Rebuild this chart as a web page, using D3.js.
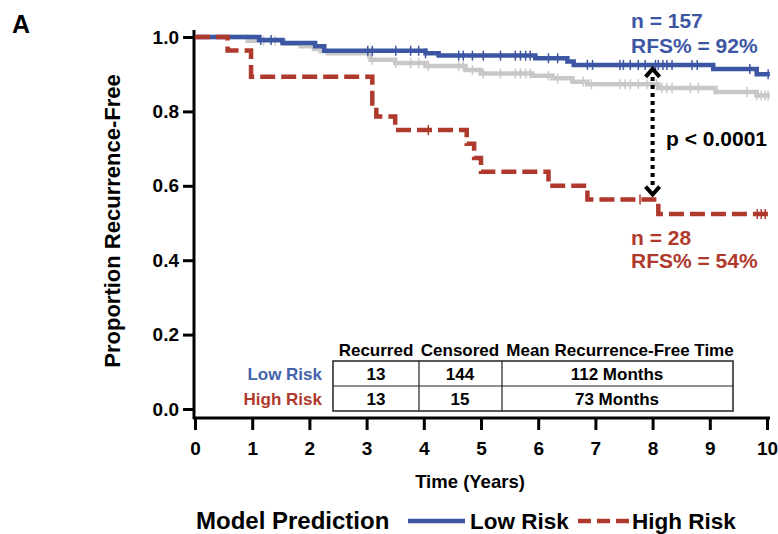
<!DOCTYPE html>
<html>
<head>
<meta charset="utf-8">
<script src="https://cdn.jsdelivr.net/npm/d3@7/dist/d3.min.js"></script>
<style>
  body { margin: 0; background: #fff; }
  svg { display: block; font-family: Arial, "Liberation Sans", Helvetica, sans-serif; font-weight: bold; }
</style>
</head>
<body>
<div id="chart"></div>
<script>
// Kaplan-Meier steps: [years, proportion recurrence-free]
var lowRiskSteps = [[0, 1], [1.12, 0.992], [1.53, 0.984], [2.1, 0.975], [2.26, 0.963], [4.03, 0.956],
    [4.26, 0.95], [5.95, 0.943], [6.51, 0.934], [6.62, 0.925], [9.06, 0.914], [9.82, 0.90], [10.05, 0.90]];
var highRiskSteps = [[0, 1], [0.57, 0.964], [0.98, 0.893], [3.1, 0.821], [3.17, 0.786], [3.5, 0.75],
    [4.75, 0.713], [4.88, 0.675], [5.0, 0.638], [6.18, 0.60], [6.86, 0.563], [8.1, 0.524], [10.05, 0.524]];
var allSteps = [[0, 1], [0.92, 0.99], [1.55, 0.982], [1.85, 0.975], [2.08, 0.968], [2.2, 0.962], [2.32, 0.956],
    [3.07, 0.939], [3.5, 0.93], [4.03, 0.922], [4.73, 0.911], [4.99, 0.902], [5.9, 0.896], [6.25, 0.889],
    [6.6, 0.88], [6.86, 0.873], [8.1, 0.863], [9.1, 0.852], [9.82, 0.843], [10.05, 0.843]];

// censored times (tick marks)
var lowRiskCensored = [1.15, 1.33, 3.02, 3.1, 3.51, 3.77, 3.91, 4.03, 4.61, 4.69, 4.85, 5.04, 5.34, 5.6, 5.69,
    5.78, 5.86, 6.18, 6.34, 6.86, 6.95, 7.43, 7.49, 7.61, 7.75, 7.87, 8.05, 8.1, 8.18, 8.25, 8.34, 8.69, 8.78,
    9.7, 10.02];
var highRiskCensored = [4.08, 7.78, 9.83, 9.9, 9.97];
var allCensored = [1.2, 1.4, 3.02, 3.1, 3.51, 3.77, 3.91, 4.08, 4.61, 4.69, 4.85, 5.04, 5.34, 5.6, 5.69, 5.78,
    5.86, 6.18, 6.34, 6.79, 6.93, 7.43, 7.52, 7.61, 7.75, 7.9, 8.07, 8.16, 8.25, 8.34, 8.66, 8.8, 9.65, 9.82,
    9.9, 9.97, 10.02];

// axis ticks
var xTicks = [0, 1, 2, 3, 4, 5, 6, 7, 8, 9, 10];
var yTicks = [0, 0.2, 0.4, 0.6, 0.8, 1.0];

// summary table
var tableHeaders = ["Recurred", "Censored", "Mean Recurrence-Free Time"];
var groupNames = ["Low Risk", "High Risk"];
var recurred = [13, 13];
var censored = [144, 15];
var meanTime = ["112 Months", "73 Months"];
var groupN = [157, 28];
var groupRfs = [92, 54];
var pText = "p < 0.0001";

var blue = "#3d56a4", red = "#b0392d", grey = "#c8c8c8";

var svg = d3.select("#chart").append("svg")
    .attr("width", 778)
    .attr("height", 534);

var x = d3.scaleLinear().domain([0, 10]).range([195, 767]);
var y = d3.scaleLinear().domain([0, 1]).range([409, 37]);

// panel letter
svg.append("text").attr("x", 12).attr("y", 33)
    .style("font-size", "25px").text("A");

// axes
var yAxis = svg.append("g")
    .attr("transform", "translate(194,0)")
    .call(d3.axisLeft(y).tickValues(yTicks).tickFormat(d3.format(".1f")).tickSize(11).tickPadding(4));
yAxis.select(".domain").attr("d", "M0,30V419");
var xAxis = svg.append("g")
    .attr("transform", "translate(0,418)")
    .call(d3.axisBottom(x).tickValues(xTicks).tickFormat(d3.format("d")).tickSize(12).tickPadding(12));
xAxis.select(".domain").attr("d", "M193,0H770");

svg.selectAll(".domain").attr("stroke", "#000").attr("stroke-width", 3);
svg.selectAll(".tick line").attr("stroke", "#000").attr("stroke-width", 3);
svg.selectAll(".tick text").attr("fill", "#000")
    .style("font-size", "19px").style("font-weight", "bold")
    .style("font-family", "Arial, 'Liberation Sans', Helvetica, sans-serif");

// axis titles
svg.append("text")
    .attr("transform", "translate(120,221) rotate(-90)")
    .attr("text-anchor", "middle")
    .style("font-size", "22px")
    .text("Proportion Recurrence-Free");
svg.append("text")
    .attr("x", 470).attr("y", 488)
    .attr("text-anchor", "middle")
    .style("font-size", "18.5px")
    .text("Time (Years)");

// curves
var line = d3.line()
    .x(function(d) { return x(d[0]); })
    .y(function(d) { return y(d[1]); })
    .curve(d3.curveStepAfter);

var bis = d3.bisector(function(d) { return d[0]; }).right;
function survAt(steps, t) {
    return steps[Math.max(0, bis(steps, t) - 1)][1];
}

function drawCurve(steps, cens, color, dash) {
    var g = svg.append("g");
    g.append("path")
        .datum(steps)
        .attr("d", line)
        .attr("fill", "none")
        .attr("stroke", color)
        .attr("stroke-width", 4.5)
        .attr("stroke-dasharray", dash);
    g.selectAll("line")
        .data(cens)
        .enter()
        .append("line")
        .attr("x1", function(d) { return x(d); })
        .attr("x2", function(d) { return x(d); })
        .attr("y1", function(d) { return y(survAt(steps, d)) - 5; })
        .attr("y2", function(d) { return y(survAt(steps, d)) + 5; })
        .attr("stroke", color)
        .attr("stroke-width", 1.5);
}

drawCurve(allSteps, allCensored, grey, null);
drawCurve(lowRiskSteps, lowRiskCensored, blue, null);
drawCurve(highRiskSteps, highRiskCensored, red, "15,6");

// double arrow between groups at 8 years
var ax = x(8), aTop = y(survAt(lowRiskSteps, 8)) + 4, aBot = y(survAt(highRiskSteps, 8)) - 5;
svg.append("line")
    .attr("x1", ax).attr("x2", ax)
    .attr("y1", aTop + 8).attr("y2", aBot - 8)
    .attr("stroke", "#000").attr("stroke-width", 4)
    .attr("stroke-dasharray", "4,4");
svg.append("path")
    .attr("d", "M" + (ax - 7) + "," + (aTop + 8) + "L" + ax + "," + aTop + "L" + (ax + 7) + "," + (aTop + 8))
    .attr("fill", "none").attr("stroke", "#000").attr("stroke-width", 4);
svg.append("path")
    .attr("d", "M" + (ax - 7) + "," + (aBot - 8) + "L" + ax + "," + aBot + "L" + (ax + 7) + "," + (aBot - 8))
    .attr("fill", "none").attr("stroke", "#000").attr("stroke-width", 4);

svg.append("text").attr("x", 666).attr("y", 146)
    .style("font-size", "21px").text(pText);

// n and RFS annotations
svg.append("text").attr("x", 631).attr("y", 28).attr("fill", blue)
    .style("font-size", "21px").text("n = " + groupN[0]);
svg.append("text").attr("x", 631).attr("y", 53).attr("fill", blue)
    .style("font-size", "21px").text("RFS% = " + groupRfs[0] + "%");
svg.append("text").attr("x", 631).attr("y", 245).attr("fill", red)
    .style("font-size", "21px").text("n = " + groupN[1]);
svg.append("text").attr("x", 631).attr("y", 268).attr("fill", red)
    .style("font-size", "21px").text("RFS% = " + groupRfs[1] + "%");

// table
var colEdges = [333, 419, 502, 733];
var rowEdges = [361, 386, 411];
var tbl = svg.append("g");
tbl.append("rect")
    .attr("x", colEdges[0]).attr("y", rowEdges[0])
    .attr("width", colEdges[3] - colEdges[0]).attr("height", rowEdges[2] - rowEdges[0])
    .attr("fill", "#fff").attr("stroke", "#222").attr("stroke-width", 1.5);
tbl.append("line").attr("x1", colEdges[0]).attr("x2", colEdges[3])
    .attr("y1", rowEdges[1]).attr("y2", rowEdges[1]).attr("stroke", "#222").attr("stroke-width", 1.2);
[colEdges[1], colEdges[2]].forEach(function(cx) {
    tbl.append("line").attr("x1", cx).attr("x2", cx)
        .attr("y1", rowEdges[0]).attr("y2", rowEdges[2]).attr("stroke", "#222").attr("stroke-width", 1.2);
});
var colMid = [376, 460, 620];
tableHeaders.forEach(function(h, i) {
    tbl.append("text").attr("x", colMid[i]).attr("y", 356)
        .attr("text-anchor", "middle").style("font-size", "17px").text(h);
});
var rowBase = [380, 405];
var cellMid = [376, 460, 617];
groupNames.forEach(function(name, r) {
    tbl.append("text").attr("x", 322).attr("y", rowBase[r])
        .attr("text-anchor", "end").attr("fill", r === 0 ? "#4562ad" : red)
        .style("font-size", "17px").text(name);
    [recurred[r], censored[r], meanTime[r]].forEach(function(v, c) {
        tbl.append("text").attr("x", cellMid[c]).attr("y", rowBase[r])
            .attr("text-anchor", "middle").style("font-size", "17px").text(v);
    });
});

// legend
var leg = svg.append("g");
leg.append("text").attr("x", 196).attr("y", 529)
    .style("font-size", "24px").text("Model Prediction");
leg.append("line").attr("x1", 408).attr("x2", 465).attr("y1", 521).attr("y2", 521)
    .attr("stroke", blue).attr("stroke-width", 4.5);
leg.append("text").attr("x", 470).attr("y", 529)
    .style("font-size", "22.5px").text(groupNames[0]);
leg.append("line").attr("x1", 578).attr("x2", 629).attr("y1", 521).attr("y2", 521)
    .attr("stroke", red).attr("stroke-width", 4.5).attr("stroke-dasharray", "13,6");
leg.append("text").attr("x", 632).attr("y", 529)
    .style("font-size", "22.5px").text(groupNames[1]);
</script>
</body>
</html>
